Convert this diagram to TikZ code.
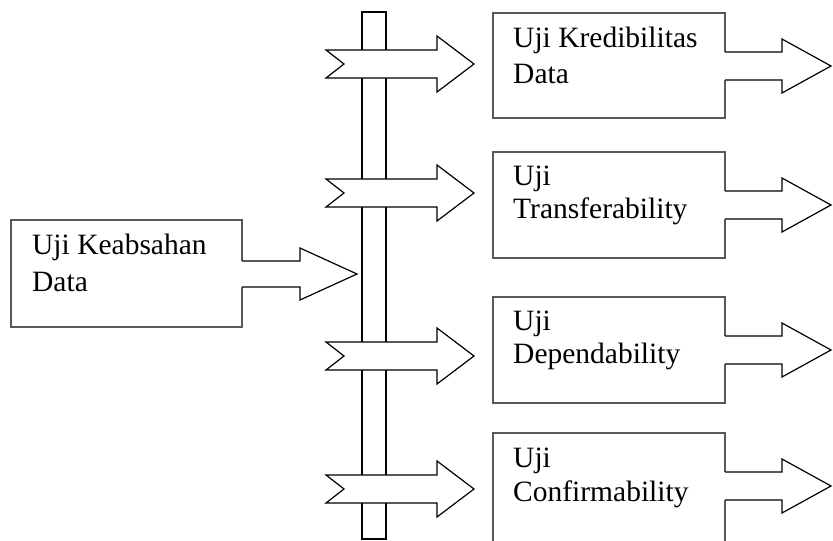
\documentclass[tikz,border=0pt]{standalone}
\usepackage{fontspec}
\setmainfont{Liberation Serif}
\begin{document}
\begin{tikzpicture}[x=1pt,y=-1pt,
  box/.style={draw=black!65,line width=1.8pt,fill=white,inner sep=0pt,minimum width=232pt},
  lbl/.style={anchor=base west,inner sep=0pt,font=\fontsize{29.5}{34}\selectfont},
  arr/.style={draw=black,line width=1.2pt,line join=miter},
  barstyle/.style={draw=black,line width=1.2pt,fill=white,inner sep=0pt,minimum width=24pt,minimum height=527pt}]
\clip (0,0) rectangle (833,541);
\fill[white] (0,0) rectangle (833,541);
% vertical bar
\node[barstyle] (bar) at (374,275.5) {};
% left box
\node[box,minimum width=231pt,minimum height=107pt] (src) at (126.5,273.5) {};
\node[lbl] (src1) at (32,254) {Uji Keabsahan};
\node[lbl] (src2) at (32,291) {Data};
% left arrow into bar
\fill[white] (239,261) -- (300,261) -- (300,248) -- (357,274) -- (300,300) -- (300,287) -- (239,287) -- cycle;
\draw[arr] (242,261) -- (300,261) -- (300,248) -- (357,274) -- (300,300) -- (300,287) -- (242,287);
% crossing arrows
\foreach \c in {64,193,356,489}{
  \draw[arr,fill=white] (326,\c-14) -- (437,\c-14) -- (437,\c-28) -- (474,\c) -- (437,\c+28) -- (437,\c+14) -- (326,\c+14) -- (344,\c) -- cycle;
}
% right boxes
\node[box,minimum height=105pt] (b1) at (609,65.5) {};
\node[box,minimum height=106pt] (b2) at (609,205) {};
\node[box,minimum height=106pt] (b3) at (609,350) {};
\node[box,minimum height=110pt] (b4) at (609,488) {};
\node[lbl] (t1a) at (513,47) {Uji Kredibilitas};
\node[lbl] (t1b) at (513,83) {Data};
\node[lbl] (t2a) at (513,185) {Uji};
\node[lbl] (t2b) at (513,218) {Transferability};
\node[lbl] (t3a) at (513,330) {Uji};
\node[lbl] (t3b) at (513,363) {Dependability};
\node[lbl] (t4a) at (513,467) {Uji};
\node[lbl] (t4b) at (513,501) {Confirmability};
% right outgoing arrows
\foreach \c in {66,205,350,486}{
  \fill[white] (722,\c-14) -- (782,\c-14) -- (782,\c-27) -- (831,\c) -- (782,\c+27) -- (782,\c+14) -- (722,\c+14) -- cycle;
  \draw[arr] (725,\c-14) -- (782,\c-14) -- (782,\c-27) -- (831,\c) -- (782,\c+27) -- (782,\c+14) -- (725,\c+14);
}
\end{tikzpicture}
\end{document}
